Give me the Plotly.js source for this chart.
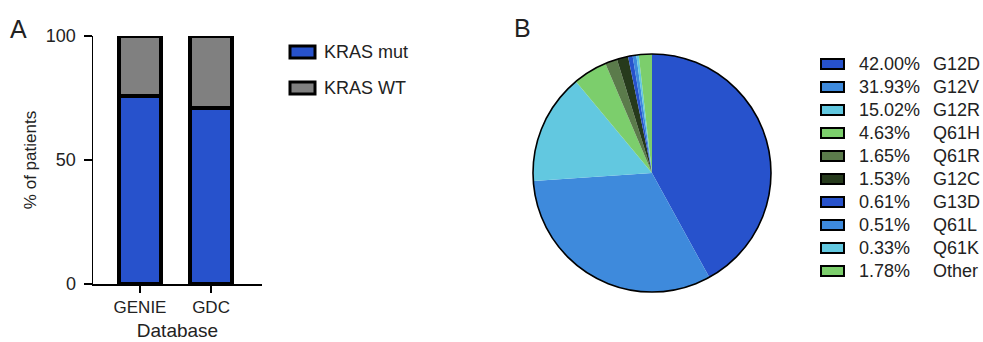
<!DOCTYPE html>
<html><head><meta charset="utf-8">
<script src="https://cdn.plot.ly/plotly-3.0.1.min.js"></script>
<style>html,body{margin:0;padding:0;background:#fff}#c{width:983px;height:342px}</style>
</head><body><div id="c"></div>
<script>
// Panel A data
const databases = ['GENIE', 'GDC'];
const krasMut = [76, 71];
const krasWT = [24, 29];
const barSeries = ['KRAS mut', 'KRAS WT'];
// Panel B data
const mutations = ['G12D','G12V','G12R','Q61H','Q61R','G12C','G13D','Q61L','Q61K','Other'];
const mutPct = [42.00, 31.93, 15.02, 4.63, 1.65, 1.53, 0.61, 0.51, 0.33, 1.78];
const mutPctLabels = ['42.00%','31.93%','15.02%','4.63%','1.65%','1.53%','0.61%','0.51%','0.33%','1.78%'];

const W = 983, H = 342;
const px = x => x / W, py = y => 1 - y / H;
const FONT = 'Liberation Sans, Arial, sans-serif';
const TXT = '#222';
const blue = '#2752CC', grey = '#808080';
const pieColors = ['#2752CC','#3E8ADC','#62C8E0','#7CCE6C','#5B7B4B','#263A1C','#2752CC','#3E8ADC','#62C8E0','#7CCE6C'];

const traces = [
  {type:'bar', x:databases, y:krasMut, name:barSeries[0], marker:{color:blue, line:{color:'#000', width:4}}, width:0.6, showlegend:false, hoverinfo:'y'},
  {type:'bar', x:databases, y:krasWT, name:barSeries[1], marker:{color:grey, line:{color:'#000', width:4}}, width:0.6, showlegend:false, hoverinfo:'y'},
  {type:'pie', labels:mutations, values:mutPct, sort:false, direction:'clockwise', rotation:0,
   marker:{colors:pieColors, line:{width:0}}, textinfo:'none', showlegend:false,
   domain:{x:[px(533), px(771)], y:[py(293), py(53)]}},
  {type:'pie', labels:['outline'], values:[1], marker:{colors:['rgba(0,0,0,0)'], line:{color:'#000', width:1.6}},
   textinfo:'none', hoverinfo:'skip', showlegend:false,
   domain:{x:[px(533), px(771)], y:[py(293), py(53)]}}
];

const shapes = [], annotations = [];
// Panel labels
annotations.push({text:'A', x:px(8), y:py(29), xref:'paper', yref:'paper', xanchor:'left', yanchor:'middle', showarrow:false, font:{family:FONT, size:25, color:TXT}});
annotations.push({text:'B', x:px(512), y:py(28), xref:'paper', yref:'paper', xanchor:'left', yanchor:'middle', showarrow:false, font:{family:FONT, size:25, color:TXT}});
// Legend A
[blue, grey].forEach((c, i) => {
  const yc = 52 + i * 36;
  shapes.push({type:'rect', xref:'paper', yref:'paper', x0:px(290), x1:px(315), y0:py(yc-6), y1:py(yc+6), fillcolor:c, line:{color:'#000', width:3}});
  annotations.push({text:barSeries[i], x:px(322), y:py(yc), xref:'paper', yref:'paper', xanchor:'left', yanchor:'middle', showarrow:false, font:{family:FONT, size:18, color:TXT}});
});
// Legend B
mutations.forEach((m, i) => {
  const yc = 64 + i * 23;
  shapes.push({type:'rect', xref:'paper', yref:'paper', x0:px(821), x1:px(844), y0:py(yc-5), y1:py(yc+5), fillcolor:pieColors[i], line:{color:'#000', width:2}});
  annotations.push({text:mutPctLabels[i], x:px(857), y:py(yc), xref:'paper', yref:'paper', xanchor:'left', yanchor:'middle', showarrow:false, font:{family:FONT, size:18, color:TXT}});
  annotations.push({text:m, x:px(931), y:py(yc), xref:'paper', yref:'paper', xanchor:'left', yanchor:'middle', showarrow:false, font:{family:FONT, size:18, color:TXT}});
});

const layout = {
  width:W, height:H, margin:{l:0, r:0, t:0, b:0}, paper_bgcolor:'#fff', plot_bgcolor:'#fff',
  barmode:'stack', showlegend:false,
  font:{family:FONT, color:TXT},
  xaxis:{domain:[px(93), px(262)], range:[-0.662, 1.718], showline:true, linecolor:'#000', linewidth:1.5,
    ticks:'outside', ticklen:7, tickwidth:1.5, tickcolor:'#000', showgrid:false, zeroline:false,
    tickfont:{family:FONT, size:17, color:TXT}, title:{text:'Database', font:{family:FONT, size:19, color:TXT}, standoff:8}},
  yaxis:{domain:[py(284), py(36)], range:[0, 100], showline:true, linecolor:'#000', linewidth:1.5,
    ticks:'outside', ticklen:8, tickwidth:1.5, tickcolor:'#000', showgrid:false, zeroline:false,
    ticklabelstandoff:4,
    tickvals:[0,50,100], tickfont:{family:FONT, size:18, color:TXT},
    title:{text:'% of patients', font:{family:FONT, size:17, color:TXT}, standoff:5}},
  shapes:shapes, annotations:annotations
};
Plotly.newPlot('c', traces, layout, {displayModeBar:false, staticPlot:true});
</script></body></html>
